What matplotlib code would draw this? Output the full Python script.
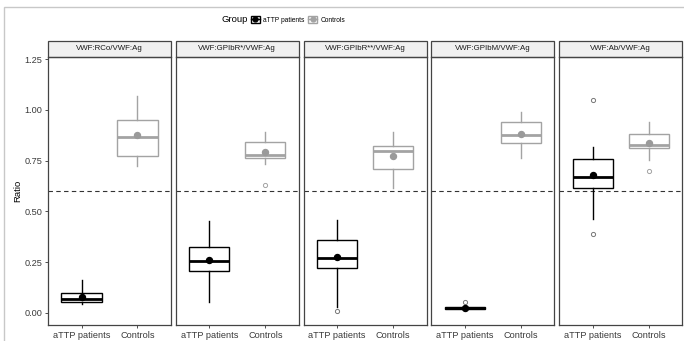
import matplotlib.pyplot as plt
from matplotlib.patches import Rectangle
from matplotlib.lines import Line2D

plt.rcParams["font.family"] = ["Liberation Sans", "DejaVu Sans"]

panels = ["VWF:RCo/VWF:Ag", "VWF:GPIbR*/VWF:Ag", "VWF:GPIbR**/VWF:Ag",
          "VWF:GPIbM/VWF:Ag", "VWF:Ab/VWF:Ag"]
groups = ["aTTP patients", "Controls"]

# box statistics per panel, patients
pat_whislo = [0.041, 0.051, 0.030, 0.020, 0.463]
pat_q1 = [0.054, 0.204, 0.222, 0.021, 0.615]
pat_med = [0.067, 0.255, 0.271, 0.025, 0.670]
pat_q3 = [0.100, 0.325, 0.360, 0.029, 0.757]
pat_whishi = [0.160, 0.450, 0.459, 0.030, 0.817]
pat_mean = [0.078, 0.258, 0.275, 0.025, 0.678]
pat_fliers = [[], [], [0.010], [0.054], [1.050, 0.390]]

# box statistics per panel, controls
ctl_whislo = [0.722, 0.732, 0.613, 0.762, 0.753]
ctl_q1 = [0.770, 0.763, 0.706, 0.835, 0.810]
ctl_med = [0.866, 0.778, 0.798, 0.876, 0.827]
ctl_q3 = [0.948, 0.840, 0.820, 0.938, 0.879]
ctl_whishi = [1.070, 0.890, 0.890, 0.990, 0.940]
ctl_mean = [0.877, 0.792, 0.773, 0.882, 0.837]
ctl_fliers = [[], [0.630], [], [], [0.700]]

cutoff = 0.60
yticks = [0.00, 0.25, 0.50, 0.75, 1.00, 1.25]

colors = ["black", "#a3a3a3"]
mean_colors = ["black", "#9a9a9a"]

W, H = 684, 341
fig = plt.figure(figsize=(W / 100, H / 100), dpi=100)

# outer frame
fig.add_artist(Rectangle((4 / W, -0.1), 1.2, (H - 7) / H + 0.1,
                         transform=fig.transFigure, fill=False,
                         edgecolor="#c8c8c8", linewidth=1.0))

bottom_px, top_px = 325, 57
strip_px = 16
for i, name in enumerate(panels):
    left = 48 + i * 127.8
    ax = fig.add_axes([left / W, (H - bottom_px) / H, 123 / W, (bottom_px - top_px) / H])
    stats = [
        dict(whislo=pat_whislo[i], q1=pat_q1[i], med=pat_med[i], q3=pat_q3[i],
             whishi=pat_whishi[i], fliers=pat_fliers[i], mean=pat_mean[i]),
        dict(whislo=ctl_whislo[i], q1=ctl_q1[i], med=ctl_med[i], q3=ctl_q3[i],
             whishi=ctl_whishi[i], fliers=ctl_fliers[i], mean=ctl_mean[i]),
    ]
    for j, st in enumerate(stats):
        c = colors[j]
        ax.bxp([st], positions=[j + 1], widths=0.72, showcaps=False,
               showmeans=True, patch_artist=True,
               boxprops=dict(facecolor="white", edgecolor=c, linewidth=1.0),
               whiskerprops=dict(color=c, linewidth=1.0),
               medianprops=dict(color=c, linewidth=2.0, solid_capstyle="butt"),
               meanprops=dict(marker="o", markerfacecolor=mean_colors[j],
                              markeredgecolor=mean_colors[j], markersize=4.3),
               flierprops=dict(marker="o", markerfacecolor="none",
                               markeredgecolor="#777777" if j == 0 else c,
                               markersize=3, markeredgewidth=0.7))
    ax.axhline(cutoff, color="#333333", linestyle=(0, (4, 3)), linewidth=0.8, zorder=0)
    ax.set_xlim(0.4, 2.6)
    ax.set_ylim(-0.06, 1.26)
    ax.set_xticks([1, 2])
    ax.set_xticklabels(groups)
    ax.set_yticks(yticks)
    ax.tick_params(axis="both", length=2.5, width=0.6, color="#333333",
                   labelsize=6.6, labelcolor="#3a3a3a", pad=1.5)
    if i == 0:
        ax.set_yticklabels([f"{t:.2f}" for t in yticks])
        ax.set_ylabel("Ratio", fontsize=6.8, labelpad=2)
    else:
        ax.tick_params(axis="y", left=False, labelleft=False)
    for s in ax.spines.values():
        s.set_color("#444444")
        s.set_linewidth(0.9)
    # facet strip
    sh = strip_px / (bottom_px - top_px)
    ax.add_patch(Rectangle((0, 1), 1, sh, transform=ax.transAxes, clip_on=False,
                           facecolor="#f0f0f0", edgecolor="#444444", linewidth=0.9))
    ax.text(0.5, 1 + sh / 2, name, transform=ax.transAxes, ha="center", va="center",
            fontsize=5.7, color="#1a1a1a")

# legend
fig.text(222 / W, (H - 20) / H, "Group", fontsize=6.8, va="center", ha="left")
handles = []
for j in range(2):
    box = Rectangle((0, 0), 1, 1, facecolor="white", edgecolor=colors[j], linewidth=1.0)
    pt = Line2D([], [], color=colors[j], marker="o", markersize=3.5, linewidth=1.0)
    handles.append((box, pt))
fig.legend(handles, groups, loc="center left", bbox_to_anchor=(251 / W, (H - 20) / H),
           ncol=2, frameon=False, fontsize=4.8, handlelength=1.3, handleheight=1.3,
           handletextpad=0.5, columnspacing=0.6, borderpad=0, borderaxespad=0)

fig.savefig("out.png", dpi=100)
